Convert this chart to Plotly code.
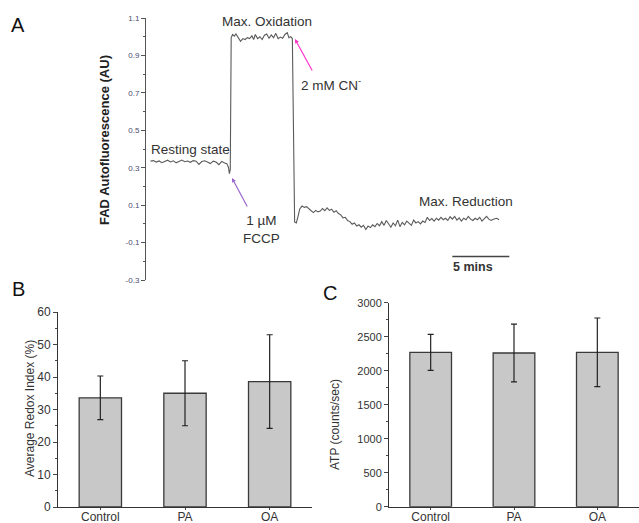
import plotly.graph_objects as go

# ---------------- Panel A data (time in minutes, FAD autofluorescence AU) ----------------
rest_t = [0.4, 0.65, 0.9, 1.15, 1.4, 1.65, 1.9, 2.15, 2.4, 2.65, 2.9, 3.15, 3.4, 3.65,
          3.9, 4.15, 4.4, 4.65, 4.9, 5.15, 5.4, 5.65, 5.9, 6.15, 6.4, 6.65, 6.9, 7.1,
          7.25, 7.32, 7.40]
rest_v = [0.335, 0.338, 0.330, 0.336, 0.327, 0.333, 0.340, 0.331, 0.337, 0.326, 0.334,
          0.341, 0.332, 0.336, 0.329, 0.338, 0.335, 0.318, 0.333, 0.337, 0.330, 0.322,
          0.335, 0.330, 0.316, 0.334, 0.325, 0.322, 0.300, 0.268, 0.290]

ox_t = [7.48, 7.6, 7.75, 7.9, 8.1, 8.3, 8.5, 8.7, 8.9, 9.1, 9.3, 9.45, 9.6, 9.8, 10.0,
        10.2, 10.4, 10.6, 10.8, 11.0, 11.2, 11.4, 11.6, 11.8, 12.0, 12.2, 12.4, 12.55,
        12.7, 12.85]
ox_v = [0.995, 1.012, 1.003, 1.015, 0.995, 0.975, 0.990, 0.985, 0.995, 0.990, 1.005,
        0.985, 1.012, 0.990, 1.000, 0.985, 1.008, 1.015, 0.992, 1.010, 0.995, 1.018,
        0.990, 0.998, 0.992, 1.012, 1.022, 0.995, 1.000, 0.990]

red_t = [13.05, 13.2, 13.35, 13.5, 13.7, 13.9, 14.1, 14.3, 14.5, 14.7, 14.9, 15.1, 15.3,
         15.5, 15.7, 15.9, 16.1, 16.3, 16.5, 16.7, 16.9, 17.1, 17.3, 17.5, 17.7, 17.9,
         18.1, 18.3, 18.5, 18.7, 18.9, 19.1, 19.3, 19.5, 19.7, 19.9, 20.1, 20.3, 20.5,
         20.7, 20.9, 21.1, 21.3, 21.5, 21.7, 21.9, 22.1, 22.3, 22.5, 22.7, 22.9, 23.1,
         23.3, 23.5, 23.7, 23.9, 24.1, 24.3, 24.5, 24.7, 24.9, 25.1, 25.3, 25.5, 25.7,
         25.9, 26.1, 26.3, 26.5, 26.7, 26.9, 27.1, 27.3, 27.5, 27.7, 27.9, 28.1, 28.3,
         28.5, 28.7, 28.9, 29.1, 29.3, 29.5, 29.7, 29.9, 30.1, 30.3, 30.5, 30.8, 31.0]
red_v = [0.010, 0.005, 0.040, 0.080, 0.095, 0.088, 0.092, 0.078, 0.070, 0.060, 0.072,
         0.064, 0.068, 0.082, 0.070, 0.085, 0.072, 0.078, 0.062, 0.070, 0.055, 0.048,
         0.032, 0.035, 0.018, 0.012, -0.002, 0.005, -0.012, -0.005, -0.018, -0.008,
         -0.030, -0.012, -0.020, -0.005, -0.015, 0.002, -0.010, 0.012, -0.008, 0.018,
         0.002, -0.018, 0.005, -0.010, 0.020, -0.015, 0.008, -0.005, 0.015, 0.002,
         -0.008, 0.020, 0.005, 0.012, 0.000, 0.015, 0.008, 0.035, 0.018, 0.028, 0.015,
         0.030, 0.020, 0.035, 0.022, 0.030, 0.018, 0.038, 0.025, 0.040, 0.020, 0.032,
         0.015, 0.030, 0.022, 0.040, 0.025, 0.018, 0.030, 0.022, 0.035, 0.015, 0.028,
         0.040, 0.025, 0.018, 0.025, 0.030, 0.022]

a_ticks = [-0.3, -0.1, 0.1, 0.3, 0.5, 0.7, 0.9, 1.1]
scale_start = 26.9
scale_len = 5

# ---------------- Panel B / C data ----------------
groups = ["Control", "PA", "OA"]
redox_mean = [33.6, 35.0, 38.6]
redox_err = [6.7, 10.0, 14.4]
atp_mean = [2270, 2260, 2270]
atp_err = [265, 425, 505]

FONT = "Liberation Sans, Arial, sans-serif"
H = 523.0
W = 639.0


def yd(top, bottom):
    return [1 - bottom / H, 1 - top / H]


def xd(left, right):
    return [left / W, min(right / W, 1.0)]


fig = go.Figure()

fig.add_trace(go.Scatter(x=rest_t + ox_t + red_t, y=rest_v + ox_v + red_v,
                         mode="lines", line=dict(color="#5a5a5a", width=1.1),
                         xaxis="x", yaxis="y", showlegend=False, hoverinfo="skip"))

bar_style = dict(marker=dict(color="#c8c8c8", line=dict(color="#3a3a3a", width=1.3)),
                 width=0.5, showlegend=False, hoverinfo="skip")
fig.add_trace(go.Bar(x=groups, y=redox_mean,
                     error_y=dict(type="data", array=redox_err, color="#222222",
                                  thickness=1.2, width=3),
                     xaxis="x2", yaxis="y2", **bar_style))
fig.add_trace(go.Bar(x=groups, y=atp_mean,
                     error_y=dict(type="data", array=atp_err, color="#222222",
                                  thickness=1.2, width=3),
                     xaxis="x3", yaxis="y3", **bar_style))

xcat = dict(range=[-0.5, 2.5], showline=True, linecolor="#333333", linewidth=1,
            ticks="outside", ticklen=2, automargin=False, ticklabelstandoff=-3,
            tickfont=dict(size=12, color="#333333"), showgrid=False)

fig.update_layout(
    width=639, height=523, margin=dict(l=0, r=0, t=0, b=0, autoexpand=False),
    paper_bgcolor="white", plot_bgcolor="white",
    font=dict(family=FONT, color="#333333"),
    xaxis=dict(domain=xd(146, 515), range=[0, 32.4], visible=False, automargin=False),
    yaxis=dict(domain=yd(18, 280), range=[-0.3, 1.1], tickvals=a_ticks, automargin=False,
               ticktext=[f"{v:.1f}" for v in a_ticks], showgrid=False, zeroline=False,
               showline=True, linecolor="#555555", linewidth=1, ticks="outside",
               ticklen=4, tickcolor="#555555",
               tickfont=dict(size=8, color="#4b4b6e", family=FONT),
               minor=dict(ticks="outside", ticklen=2.5, dtick=0.1, tickcolor="#555555")),
    xaxis2=dict(domain=xd(58, 312), anchor="y2", **xcat),
    yaxis2=dict(domain=yd(312, 507), range=[0, 60], anchor="x2", dtick=10,
                showline=True, linecolor="#333333", linewidth=1, ticks="outside",
                ticklen=4, showgrid=False, zeroline=False, automargin=False,
                tickfont=dict(size=12, color="#333333"),
                minor=dict(ticks="outside", ticklen=2.5, dtick=5)),
    xaxis3=dict(domain=xd(389, 640), anchor="y3", **xcat),
    yaxis3=dict(domain=yd(302.7, 506.7), range=[0, 3000], anchor="x3", dtick=500,
                showline=True, linecolor="#333333", linewidth=1, ticks="outside",
                ticklen=4, showgrid=False, zeroline=False, automargin=False,
                tickfont=dict(size=11, color="#333333"),
                minor=dict(ticks="outside", ticklen=2.5, dtick=250)),
    bargap=0.5,
)

C = dict(xanchor="center", yanchor="middle", showarrow=False)
AF = dict(size=13.5, color="#333333")
ann = []
# panel letters
for letter, x, y in [("A", 18, 25), ("B", 18, 289), ("C", 330, 293)]:
    ann.append(dict(text=letter, x=x / W, y=1 - y / H, xref="paper", yref="paper",
                    font=dict(size=20, color="#111111", family=FONT), **C))
# axis titles
ann.append(dict(text="<b>FAD Autofluorescence (AU)</b>", x=104 / W, y=1 - 140 / H,
                xref="paper", yref="paper", textangle=-90,
                font=dict(size=13, color="#222222"), **C))
ann.append(dict(text="Average Redox Index (%)", x=30 / W, y=1 - 409 / H,
                xref="paper", yref="paper", textangle=-90,
                font=dict(size=12, color="#333333"), **C))
ann.append(dict(text="ATP (counts/sec)", x=335 / W, y=1 - 425 / H,
                xref="paper", yref="paper", textangle=-90,
                font=dict(size=12, color="#333333"), **C))
# panel A labels
ann += [
    dict(text="Resting state", x=3.9, y=0.395, xref="x", yref="y", font=AF, **C),
    dict(text="Max. Oxidation", x=10.6, y=1.08, xref="x", yref="y", font=AF, **C),
    dict(text="2 mM CN<sup>-</sup>", x=13.4, y=0.75, xref="x", yref="y",
         showarrow=False, xanchor="left", yanchor="middle", font=AF),
    dict(text="1 µM<br>FCCP", x=10.15, y=-0.03, xref="x", yref="y", font=AF, **C),
    dict(text="Max. Reduction", x=28.1, y=0.122, xref="x", yref="y", font=AF, **C),
    dict(text="<b>5 mins</b>", x=scale_start + scale_len * 0.37, y=-0.232, xref="x",
         yref="y", font=dict(size=12.5, color="#333333"), **C),
    # arrows
    dict(x=13.08, y=0.988, ax=14.66, ay=0.811, xref="x", yref="y", axref="x", ayref="y",
         text="", showarrow=True, arrowhead=2, arrowsize=0.7, arrowwidth=1.2,
         arrowcolor="#ff33cc"),
    dict(x=7.55, y=0.245, ax=8.96, ay=0.085, xref="x", yref="y", axref="x", ayref="y",
         text="", showarrow=True, arrowhead=2, arrowsize=0.7, arrowwidth=1.2,
         arrowcolor="#9966cc"),
]
fig.update_layout(annotations=ann)

fig.add_shape(type="line", x0=scale_start, x1=scale_start + scale_len, y0=-0.175,
              y1=-0.175, xref="x", yref="y", line=dict(color="#444444", width=1.5))

fig.write_html("out.html", config=dict(displayModeBar=False),
               post_script="document.body.style.margin='0';document.body.style.padding='0';")
